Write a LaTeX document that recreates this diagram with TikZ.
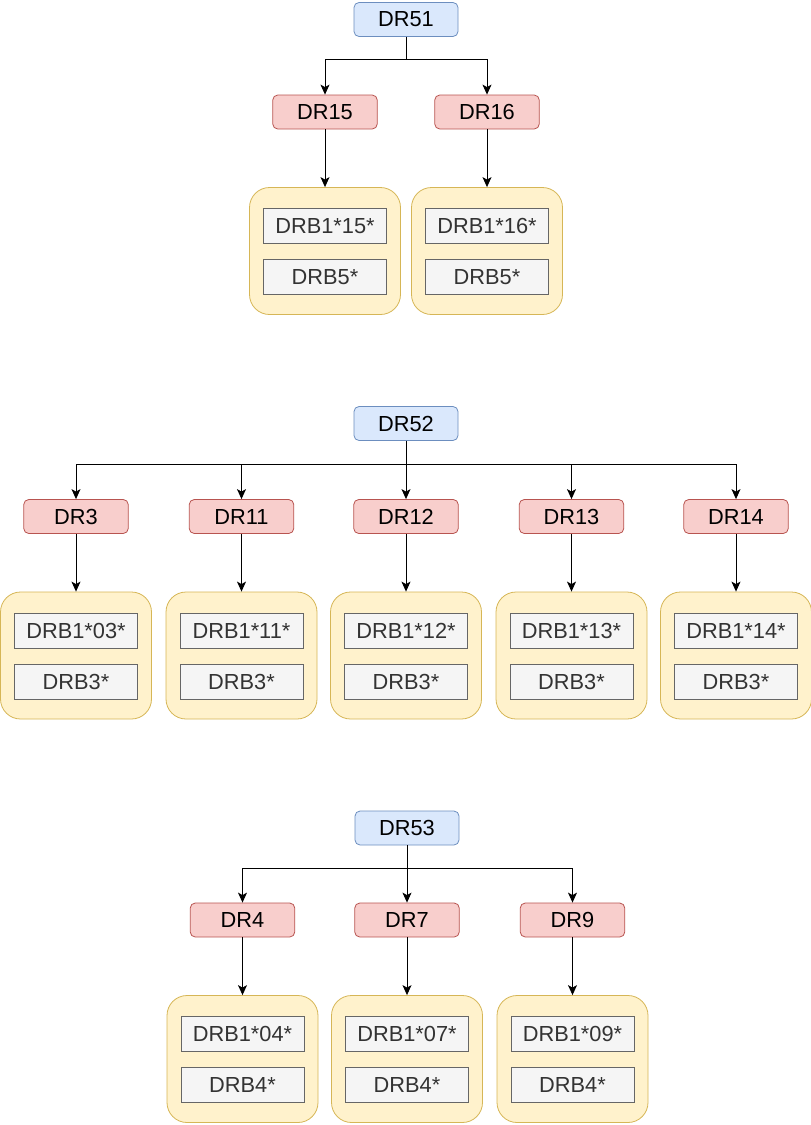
\documentclass[tikz,border=0pt]{standalone}
\usepackage{fontspec}
\setmainfont{Liberation Sans}
\usetikzlibrary{arrows.meta}
\definecolor{bfill}{HTML}{DAE8FC}
\definecolor{bline}{HTML}{6C8EBF}
\definecolor{rfill}{HTML}{F8CECC}
\definecolor{rline}{HTML}{B85450}
\definecolor{yfill}{HTML}{FFF2CC}
\definecolor{yline}{HTML}{D6B656}
\definecolor{gfill}{HTML}{F5F5F5}
\definecolor{gline}{HTML}{666666}
\definecolor{gtext}{HTML}{333333}
\newcommand\myfsz{\fontsize{21.8}{25}\selectfont}
\newcommand\drfamily[6]{%
  \node[redbox] (#1) at (#2,#3) {#4};
  \node[contbox] (#1k) at (#2,#3+139) {};
  \node[graybox] (#1a) at (#2,#3+114) {#5};
  \node[graybox] (#1b) at (#2,#3+165) {#6};
  \draw[conn] (#1.south) -- (#1k.north);
}
\begin{document}
\begin{tikzpicture}[x=1pt,y=-1pt,
  rootbox/.style={draw=bline,fill=bfill,rounded corners=5pt,minimum width=104pt,minimum height=34pt,inner sep=0pt,font=\myfsz,line width=0.8pt},
  redbox/.style={draw=rline,fill=rfill,rounded corners=5pt,minimum width=104.5pt,minimum height=34pt,inner sep=0pt,font=\myfsz,line width=0.8pt},
  contbox/.style={draw=yline,fill=yfill,rounded corners=20pt,minimum width=151pt,minimum height=127pt,inner sep=0pt,line width=0.8pt},
  graybox/.style={draw=gline,fill=gfill,minimum width=123pt,minimum height=35pt,inner sep=0pt,font=\myfsz,text=gtext,line width=0.8pt},
  conn/.style={-{Stealth[length=10pt,width=9pt,inset=2.5pt]},line width=0.9pt}]
\useasboundingbox (0,0) rectangle (811,1125);
% group 1
\node[rootbox] (r1) at (406,19.5) {DR51};
\coordinate (j1) at (406,59);
\drfamily{dr15}{325}{112}{DR15}{DRB1*15*}{DRB5*}
\drfamily{dr16}{487}{112}{DR16}{DRB1*16*}{DRB5*}
\draw[conn] (r1.south) -- (j1) -| (dr15.north);
\draw[conn] (j1) -| (dr16.north);
% group 2
\node[rootbox] (r2) at (406,423.5) {DR52};
\coordinate (j2) at (406,464);
\drfamily{dr3}{76}{516.5}{DR3}{DRB1*03*}{DRB3*}
\drfamily{dr11}{241.5}{516.5}{DR11}{DRB1*11*}{DRB3*}
\drfamily{dr12}{406}{516.5}{DR12}{DRB1*12*}{DRB3*}
\drfamily{dr13}{571.5}{516.5}{DR13}{DRB1*13*}{DRB3*}
\drfamily{dr14}{736}{516.5}{DR14}{DRB1*14*}{DRB3*}
\draw[conn] (r2.south) -- (dr12.north);
\draw[conn] (j2) -| (dr3.north);
\draw[conn] (j2) -| (dr11.north);
\draw[conn] (j2) -| (dr13.north);
\draw[conn] (j2) -| (dr14.north);
% group 3
\node[rootbox] (r3) at (407,828) {DR53};
\coordinate (j3) at (407,868);
\drfamily{dr4}{242.5}{920}{DR4}{DRB1*04*}{DRB4*}
\drfamily{dr7}{407}{920}{DR7}{DRB1*07*}{DRB4*}
\drfamily{dr9}{572.5}{920}{DR9}{DRB1*09*}{DRB4*}
\draw[conn] (r3.south) -- (dr7.north);
\draw[conn] (j3) -| (dr4.north);
\draw[conn] (j3) -| (dr9.north);
\end{tikzpicture}
\end{document}
